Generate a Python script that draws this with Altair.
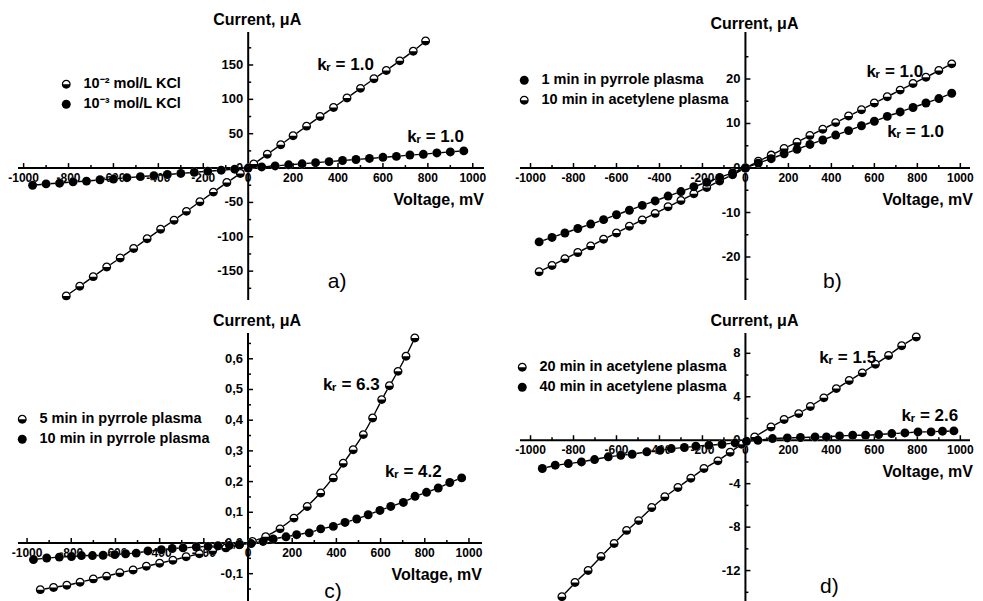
import altair as alt
import pandas as pd

FONT = "Liberation Sans"

# ---------------- data ----------------
# panel a
A_NAMES = ["10\u207b\u00b2 mol/L KCl", "10\u207b\u00b3 mol/L KCl"]
A1_V = [-810, -750, -690, -630, -570, -510, -450, -390, -330, -275, -215, -155, -95, -35,
        25, 85, 145, 200, 260, 320, 380, 440, 500, 560, 615, 675, 735, 790]
A1_I = [-186, -172, -158, -144, -131, -117, -103, -89, -76, -63, -49, -35, -21, -8,
        6, 20, 34, 47, 61, 75, 88, 102, 116, 130, 142, 156, 170, 185]
A2_V = [-960, -900, -840, -780, -720, -660, -600, -540, -480, -420, -360, -300, -240, -180, -120, -60,
        0, 60, 120, 180, 240, 300, 360, 420, 480, 540, 600, 660, 720, 780, 840, 900, 960]
A2_I = [-25, -23, -22, -20, -19, -17, -16, -14, -12.5, -11, -9.4, -7.8, -6.2, -4.7, -3.1, -1.6,
        0, 1.6, 3.1, 4.7, 6.2, 7.8, 9.4, 11, 12.5, 14, 15.6, 17, 19, 20, 22, 23.5, 25]

# panel b
B_NAMES = ["1 min in pyrrole plasma", "10 min in acetylene plasma"]
B_V = [-960, -900, -840, -780, -720, -660, -600, -540, -480, -420, -360, -300, -240, -180, -120, -60,
       0, 60, 120, 180, 240, 300, 360, 420, 480, 540, 600, 660, 720, 780, 840, 900, 960]
B1_I = [-16.6, -15.6, -14.6, -13.6, -12.6, -11.6, -10.5, -9.5, -8.4, -7.4, -6.3, -5.3, -4.2, -3.2, -2.1, -1.1,
        0, 1.1, 2.1, 3.2, 4.2, 5.3, 6.3, 7.4, 8.4, 9.5, 10.5, 11.6, 12.6, 13.6, 14.6, 15.6, 16.8]
B2_I = [-23.3, -21.9, -20.4, -19, -17.5, -16, -14.6, -13.1, -11.7, -10.2, -8.7, -7.3, -5.8, -4.4, -2.9, -1.5,
        0, 1.5, 2.9, 4.4, 5.8, 7.3, 8.7, 10.2, 11.7, 13.1, 14.6, 16, 17.5, 19, 20.4, 21.9, 23.4]

# panel c
C_NAMES = ["5 min in pyrrole plasma", "10 min in pyrrole plasma"]
C1_V = [-940, -880, -820, -760, -700, -640, -580, -520, -460, -400, -340, -280, -220, -160, -100, -40,
        20, 80, 145, 208, 268, 329, 386, 431, 476, 522, 564, 605, 640, 679, 715, 755]
C1_I = [-0.152, -0.145, -0.138, -0.128, -0.117, -0.108, -0.097, -0.088, -0.076, -0.066, -0.056, -0.045,
        -0.035, -0.025, -0.016, -0.006, 0.005, 0.02, 0.046, 0.081, 0.119, 0.163, 0.212, 0.26, 0.304,
        0.353, 0.407, 0.467, 0.512, 0.559, 0.608, 0.668]
C2_V = [-971, -911, -854, -799, -754, -704, -656, -603, -554, -506, -453, -392, -343, -294, -234, -181,
        -136, -84, -38, 14, 68, 114, 172, 220, 277, 329, 386, 439, 492, 544, 597, 646, 703, 756, 808,
        861, 913, 967]
C2_I = [-0.054, -0.049, -0.046, -0.044, -0.041, -0.041, -0.040, -0.038, -0.035, -0.033, -0.026, -0.022,
        -0.018, -0.016, -0.013, -0.011, -0.009, -0.008, -0.005, -0.002, 0.005, 0.013, 0.02, 0.027, 0.033,
        0.046, 0.054, 0.067, 0.078, 0.092, 0.106, 0.119, 0.132, 0.152, 0.165, 0.179, 0.197, 0.212]

# panel d
D_NAMES = ["20 min in acetylene plasma", "40 min in acetylene plasma"]
D1_V = [-854, -793, -732, -672, -611, -553, -497, -436, -375, -314, -254, -193, -128, -71, -18,
        43, 119, 180, 248, 302, 365, 423, 483, 544, 605, 666, 727, 795]
D1_I = [-14.4, -13.1, -12.0, -10.7, -9.5, -8.3, -7.4, -6.2, -5.2, -4.35, -3.5, -2.6, -1.9, -1.1, -0.37,
        0.3, 1.22, 1.9, 2.45, 3.1, 3.9, 4.75, 5.5, 6.2, 7.0, 7.8, 8.7, 9.5]
D2_V = [-945, -885, -824, -763, -702, -638, -580, -527, -459, -398, -345, -284, -231, -170, -109, -48,
        5, 58, 126, 195, 256, 324, 377, 438, 499, 559, 620, 681, 742, 803, 864, 917, 970]
D2_I = [-2.6, -2.3, -2.15, -2.0, -1.78, -1.53, -1.38, -1.29, -1.07, -0.92, -0.77, -0.67, -0.55, -0.46,
        -0.37, -0.25, -0.1, 0, 0.15, 0.21, 0.25, 0.3, 0.3, 0.4, 0.46, 0.46, 0.52, 0.61, 0.67, 0.77, 0.77,
        0.83, 0.86]

# axis ticks and labels
X_MAJOR = [-1000, -800, -600, -400, -200, 0, 200, 400, 600, 800, 1000]
X_LABELS = ["-1000", "-800", "-600", "-400", "-200", "0", "200", "400", "600", "800", "1000"]
X_MINOR = [-900, -700, -500, -300, -100, 100, 300, 500, 700, 900]

YA_MAJOR = [-150, -100, -50, 0, 50, 100, 150]
YA_LABELS = ["-150", "-100", "-50", "0", "50", "100", "150"]
YA_MINOR = [-175, -125, -75, -25, 25, 75, 125, 175]
YB_MAJOR = [-20, -10, 0, 10, 20]
YB_LABELS = ["-20", "-10", "0", "10", "20"]
YB_MINOR = [-25, -15, -5, 5, 15, 25]
YC_MAJOR = [-0.1, 0, 0.1, 0.2, 0.3, 0.4, 0.5, 0.6]
YC_LABELS = ["-0,1", "0,0", "0,1", "0,2", "0,3", "0,4", "0,5", "0,6"]
YC_MINOR = [-0.15, -0.05, 0.05, 0.15, 0.25, 0.35, 0.45, 0.55, 0.65]
YD_MAJOR = [-12, -8, -4, 0, 4, 8]
YD_LABELS = ["-12", "-8", "-4", "0", "4", "8"]
YD_MINOR = [-14, -10, -6, -2, 2, 6]

# annotations (k_r values)
A_KR = [(307, 150, "1.0"), (708, 45, "1.0")]
B_KR = [(563, 21.6, "1.0"), (660, 8.1, "1.0")]
C_KR = [(339, 0.515, "6.3"), (620, 0.231, "4.2")]
D_KR = [(344, 7.57, "1.5"), (726, 2.24, "2.6")]

# half-filled marker: outline ring with open upper half and solid lower half
HALF = "M-1,0A1,1 0 0,1 1,0A1,1 0 0,1 -1,0ZM-0.72,0L0.72,0A0.72,0.72 0 0,0 -0.72,0Z"
MSIZE = 80


def make_panel(series, xdom, ydom, w, h, y_major, y_labels, y_minor,
               legend_xy, krs, plabel, plabel_xy, title_dy=-12, vdx=0):
    rows = []
    for name, V, I, kind in series:
        for v, i in zip(V, I):
            rows.append({"V": v, "I": i, "s": name})
    pts = pd.DataFrame(rows)
    names = [s[0] for s in series]
    shapes = [HALF if s[3] == "half" else "circle" for s in series]

    xs = alt.Scale(domain=xdom, nice=False, zero=False)
    ys = alt.Scale(domain=ydom, nice=False, zero=False)
    X = alt.X("V:Q", scale=xs, axis=None)
    Y = alt.Y("I:Q", scale=ys, axis=None)

    xaxis = alt.Chart(pd.DataFrame({"I": [0]})).mark_rule(color="black", strokeWidth=2).encode(y=Y)
    yaxis = alt.Chart(pd.DataFrame({"V": [0]})).mark_rule(color="black", strokeWidth=2).encode(x=X)

    xt_major = alt.Chart(pd.DataFrame({"V": X_MAJOR, "lab": X_LABELS, "I": [0] * len(X_MAJOR)}))
    xt1 = xt_major.mark_point(shape="M0,0V-1", size=100, filled=False, color="black",
                              strokeWidth=1.5, opacity=1).encode(x=X, y=Y)
    xt2 = alt.Chart(pd.DataFrame({"V": X_MINOR, "I": [0] * len(X_MINOR)})).mark_point(
        shape="M0,0V-1", size=36, filled=False, color="black", strokeWidth=1.5, opacity=1
    ).encode(x=X, y=Y)
    xl = xt_major.mark_text(font=FONT, fontSize=12, fontWeight="bold", baseline="top", dy=5,
                            color="black").encode(x=X, y=Y, text="lab:N")

    yt_major = alt.Chart(pd.DataFrame({"I": y_major, "lab": y_labels, "V": [0] * len(y_major)}))
    yt1 = yt_major.mark_point(shape="M0,0H1", size=100, filled=False, color="black",
                              strokeWidth=1.5, opacity=1).encode(x=X, y=Y)
    yt2 = alt.Chart(pd.DataFrame({"I": y_minor, "V": [0] * len(y_minor)})).mark_point(
        shape="M0,0H1", size=36, filled=False, color="black", strokeWidth=1.5, opacity=1
    ).encode(x=X, y=Y)
    yl = yt_major.mark_text(font=FONT, fontSize=13, fontWeight="bold", align="right", dx=-5,
                            baseline="middle", color="black").encode(x=X, y=Y, text="lab:N")

    titles_y = alt.Chart(pd.DataFrame({"V": [0], "I": [ydom[1]], "t": ["Current, \u03bcA"]})).mark_text(
        font=FONT, fontSize=16, fontWeight="bold", align="center", baseline="middle", dx=9, dy=title_dy,
        color="black").encode(x=X, y=Y, text="t:N")
    titles_x = alt.Chart(pd.DataFrame({"V": [xdom[1]], "I": [0], "t": ["Voltage, mV"]})).mark_text(
        font=FONT, fontSize=16, fontWeight="bold", align="right", baseline="middle", dy=32, dx=vdx,
        color="black").encode(x=X, y=Y, text="t:N")

    lines = alt.Chart(pts).mark_line(color="black", strokeWidth=1.4, interpolate="basis").encode(
        x=X, y=Y, detail="s:N", order="V:Q")
    base = alt.Chart(pts).mark_point(filled=True, size=MSIZE, color="white", opacity=1).encode(x=X, y=Y)
    over = alt.Chart(pts).mark_point(filled=True, size=MSIZE, color="black", opacity=1).encode(
        x=X, y=Y,
        shape=alt.Shape("s:N", scale=alt.Scale(domain=names, range=shapes), sort=names,
                        legend=alt.Legend(title=None, orient="none", legendX=legend_xy[0],
                                          legendY=legend_xy[1], symbolSize=MSIZE,
                                          symbolFillColor="black", symbolStrokeWidth=0,
                                          labelFont=FONT, labelFontSize=14.5, labelFontWeight="bold",
                                          labelColor="black", labelOffset=10, rowPadding=5,
                                          padding=0, labelLimit=400)))

    kdf = pd.DataFrame({"V": [k[0] for k in krs], "I": [k[1] for k in krs],
                        "t": ["k\u1d63 = " + k[2] for k in krs]})
    k1 = alt.Chart(kdf).mark_text(font=FONT, fontSize=17, fontWeight="bold", align="left",
                                  baseline="middle", color="black").encode(x=X, y=Y, text="t:N")

    pl = alt.Chart(pd.DataFrame({"V": [plabel_xy[0]], "I": [plabel_xy[1]], "t": [plabel]})).mark_text(
        font=FONT, fontSize=21, align="center", baseline="middle", color="black").encode(x=X, y=Y, text="t:N")

    return alt.layer(xaxis, yaxis, xt1, xt2, yt1, yt2, xl, yl, titles_y, titles_x,
                     lines, base, over, k1, pl).properties(width=w, height=h)


pa = make_panel([(A_NAMES[0], A1_V, A1_I, "half"), (A_NAMES[1], A2_V, A2_I, "full")],
                [-1025, 1050], [-192, 198], 466, 268, YA_MAJOR, YA_LABELS, YA_MINOR,
                (41, 45), A_KR, "a)", (396, -166))
pb = make_panel([(B_NAMES[0], B_V, B1_I, "full"), (B_NAMES[1], B_V, B2_I, "half")],
                [-1049, 1045], [-29.66, 30.56], 450, 268, YB_MAJOR, YB_LABELS, YB_MINOR,
                (-3, 41), B_KR, "b)", (405, -25.6), title_dy=-8, vdx=3)
pc = make_panel([(C_NAMES[0], C1_V, C1_I, "half"), (C_NAMES[1], C2_V, C2_I, "full")],
                [-1041, 1059], [-0.189, 0.684], 464, 268, YC_MAJOR, YC_LABELS, YC_MINOR,
                (-3, 79), C_KR, "c)", (385, -0.16))
pd_ = make_panel([(D_NAMES[0], D1_V, D1_I, "half"), (D_NAMES[1], D2_V, D2_I, "full")],
                 [-1049, 1045], [-14.8, 9.87], 450, 268, YD_MAJOR, YD_LABELS, YD_MINOR,
                 (-5, 27), D_KR, "d)", (391, -13.5), vdx=3)

chart = alt.concat(pa, pb, pc, pd_, columns=2, spacing={"row": 33, "column": 36},
                   bounds="flush", align="each").resolve_scale(
    x="independent", y="independent", shape="independent").properties(
    padding={"left": 0, "top": 4, "right": 0, "bottom": 0}, background="white"
).configure_view(stroke=None)

chart.save("out.html", embed_options={"renderer": "svg", "actions": False})
